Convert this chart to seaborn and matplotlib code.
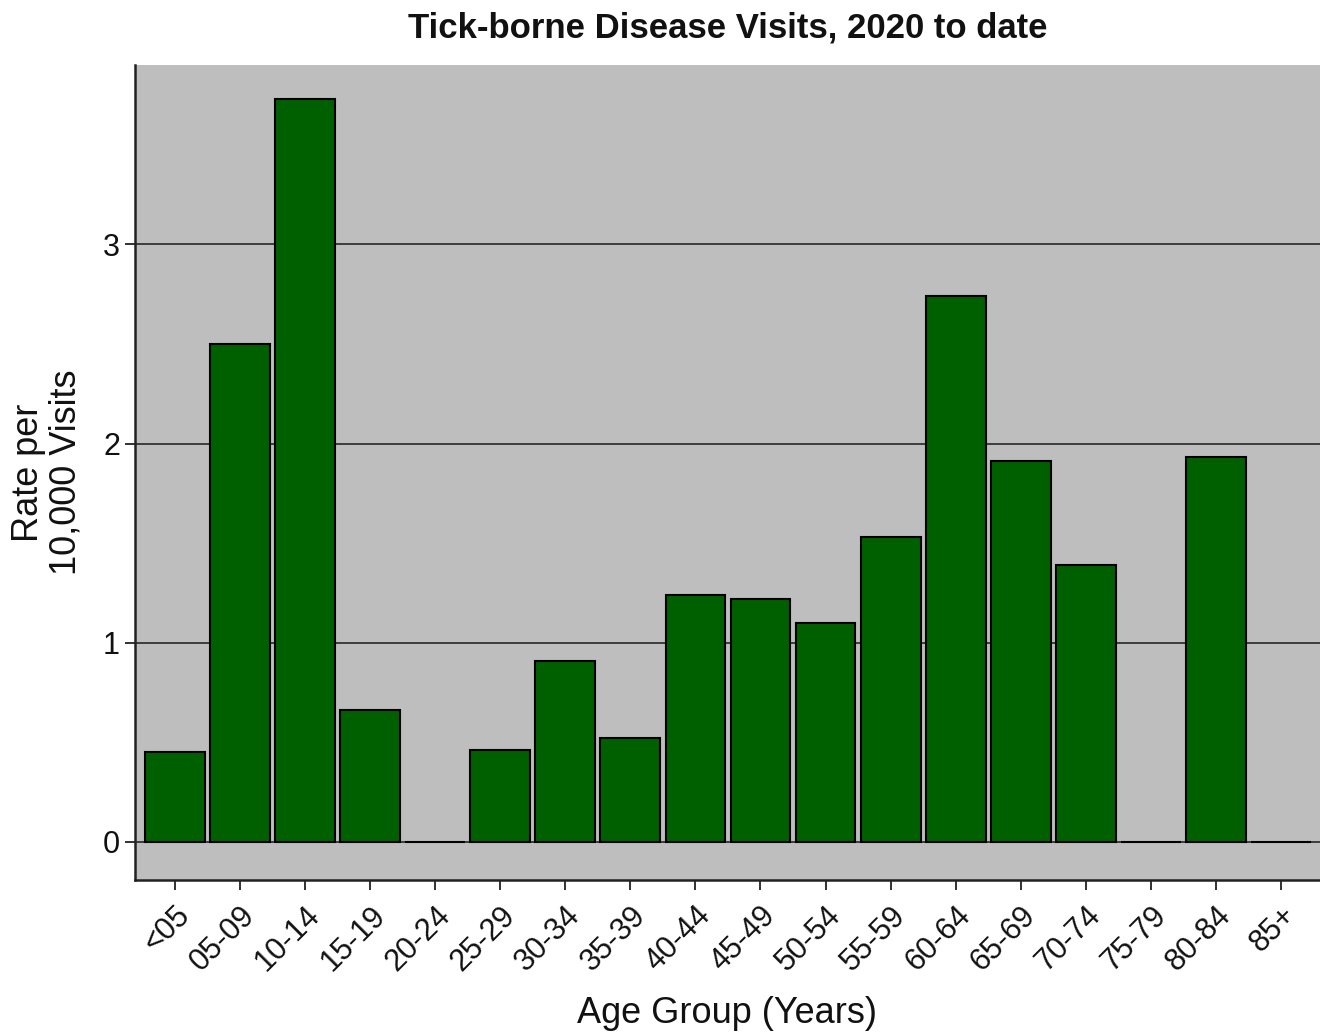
import pandas as pd
import numpy as np
import matplotlib
matplotlib.use("Agg")
import matplotlib.pyplot as plt
import seaborn as sns

# Data
age_groups = ["<05", "05-09", "10-14", "15-19", "20-24", "25-29", "30-34", "35-39",
              "40-44", "45-49", "50-54", "55-59", "60-64", "65-69", "70-74", "75-79",
              "80-84", "85+"]
rates = [0.45, 2.50, 3.73, 0.66, 0.0, 0.46, 0.91, 0.52, 1.24, 1.22, 1.10, 1.53,
         2.74, 1.91, 1.39, 0.0, 1.93, 0.0]

df = pd.DataFrame({"age": age_groups, "rate": rates})

sns.set_theme(style="white")
plt.rcParams["font.family"] = ["Liberation Sans", "DejaVu Sans"]

fig = plt.figure(figsize=(13.2, 10.36), dpi=100)
ax = fig.add_axes([0.102, 0.151, 0.898, 0.786])
ax.set_facecolor("#BEBEBE")

sns.barplot(data=df, x="age", y="rate", color="#006000", saturation=1,
            edgecolor="black", linewidth=1.5, width=0.92, ax=ax, zorder=3)

ax.set_ylim(-0.19, 3.9)
ax.set_xlim(-0.62, 17.6)
ax.set_yticks([0, 1, 2, 3])
ax.yaxis.grid(True, color="#333333", linewidth=1.3, zorder=0)
ax.set_axisbelow(True)

for s in ["top", "right"]:
    ax.spines[s].set_visible(False)
for s in ["left", "bottom"]:
    ax.spines[s].set_color("#222222")
    ax.spines[s].set_linewidth(1.8)

ax.tick_params(axis="both", which="both", length=7, width=1.3, color="#222222",
               labelsize=22, bottom=True, left=True, labelcolor="#111111")
ax.tick_params(axis="x", pad=8)
plt.setp(ax.get_xticklabels(), rotation=45, ha="right", rotation_mode="anchor")

ax.set_title("Tick-borne Disease Visits, 2020 to date", fontsize=25,
             fontweight="bold", pad=20, color="#111111")
ax.set_xlabel("Age Group (Years)", fontsize=26, labelpad=14, color="#111111")
ax.set_ylabel("Rate per\n10,000 Visits", fontsize=26, labelpad=14, color="#111111",
              linespacing=1.1)

fig.savefig("out.png", dpi=100)
